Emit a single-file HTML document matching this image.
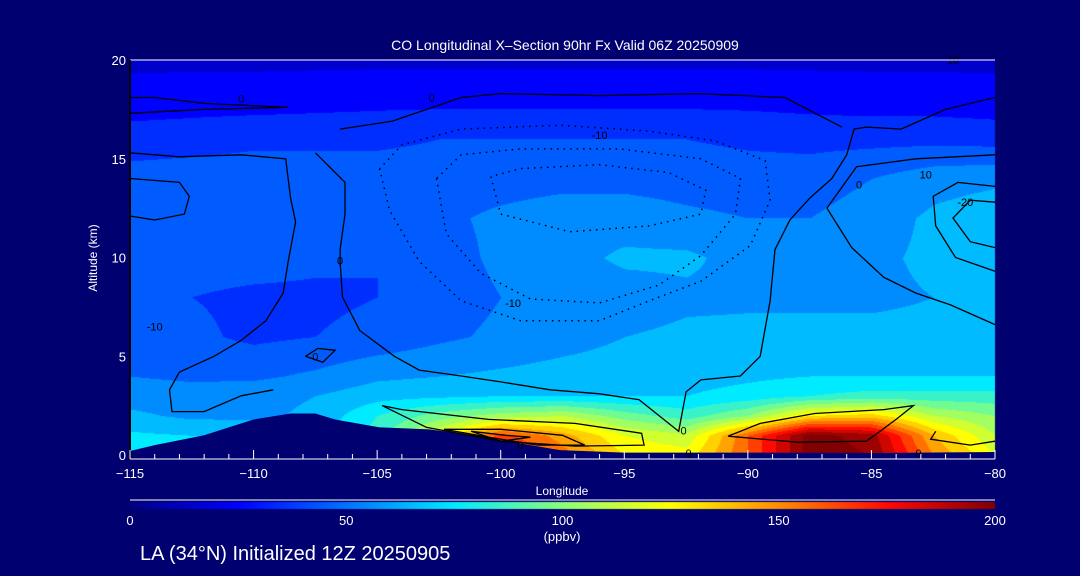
<!DOCTYPE html>
<html><head><meta charset="utf-8"><style>
html,body{margin:0;padding:0;background:#000070;}
#wrap{position:relative;width:1080px;height:576px;background:#000070;overflow:hidden;font-family:"Liberation Sans",sans-serif;color:#fff;}
canvas,svg{position:absolute;left:0;top:0;}
</style></head><body>
<div id="wrap">
<canvas id="cv" width="1080" height="576"></canvas>
<svg id="sv" width="1080" height="576"></svg>
</div>
<script>
// ---- data ----
const lons = [-115,-112.5,-110,-107.5,-105,-102.5,-100,-97.5,-95,-92.5,-90,-87.5,-85,-82.5,-80];
const alts = [0,1,2,3,4,6,8,10,12,14,16,18,20];
const co = [
 [78,78,78,78,95,130,175,155,130,125,160,205,200,150,120],
 [72,70,68,68,85,120,165,145,120,112,160,205,195,140,110],
 [62,58,58,62,80,95,105,110,95,85,100,130,135,110,100],
 [56,55,57,60,66,68,70,70,70,70,74,80,84,84,84],
 [50,48,48,52,58,60,62,64,65,66,68,70,70,70,70],
 [46,42,38,40,43,48,52,56,60,62,63,63,63,63,63],
 [43,40,38,38,40,45,50,54,55,58,58,58,58,60,60],
 [45,44,44,42,40,46,52,56,62,62,56,55,58,62,60],
 [45,45,45,45,45,48,52,55,55,52,50,50,55,62,66],
 [44,45,45,45,45,45,46,47,47,46,45,45,50,56,58],
 [35,36,38,38,38,40,40,40,40,40,38,37,37,37,36],
 [24,25,25,26,27,27,27,27,27,27,27,26,25,25,24],
 [18,18,18,18,18,18,18,18,18,18,18,18,18,18,18]
];
const terrainLon = [-115,-114,-112,-110,-108.5,-107.5,-106.7,-104.9,-102.9,-101,-100,-97.6,-95,-90,-85,-80];
const terrainAlt = [0.2,0.5,1.0,1.8,2.1,2.1,1.8,1.4,1.3,1.0,0.75,0.25,0.12,0.12,0.1,0.15];
const xTicks = [-115,-110,-105,-100,-95,-90,-85,-80];
const yTicks = [0,5,10,15,20];
const cbTicks = [0,50,100,150,200];
const solidContours = [
 [[-115,18.1],[-114,18.1],[-112,17.8],[-108.6,17.6],[-112,17.5],[-115,17.3]],
 [[-115,15.3],[-113,15.1],[-110.5,15.2],[-108.7,15.0],[-108.5,13],[-108.3,11.8],[-108.6,9.8],[-108.8,8.2],[-109.5,6.8],[-110.5,5.8],[-111.6,5],[-113,4.2],[-113.4,3.3],[-113.3,2.2],[-112,2.2],[-110.5,3],[-109.2,3.3]],
 [[-115,14],[-113,13.8],[-112.6,13.1],[-112.8,12.2],[-114,11.9],[-115,12.1]],
 [[-107.5,15.3],[-106.3,13.8],[-106.3,12.2],[-106.5,10.4],[-106.5,9.8],[-106.4,8],[-105.7,6.3],[-104.3,5],[-103.3,4.3],[-101.6,4],[-100,3.7],[-98,3.3],[-96,3.1],[-94.4,2.8],[-93.1,1.5],[-92.8,1.2],[-92.5,3.2],[-91.9,3.8],[-90.3,4],[-89.5,5],[-89.1,7.8],[-88.9,10.4],[-88.3,11.9],[-87.5,13],[-86.6,14],[-86,15.2],[-85.7,16.5],[-85.2,16.6],[-83.8,16.5],[-82,17.5],[-80,18.1]],
 [[-106.5,16.5],[-104.4,16.9],[-101.6,18.1],[-100,18.3],[-96,18.2],[-92,18.3],[-88.5,18.1],[-86.2,16.6]],
 [[-86.8,12.5],[-85.6,14.6],[-83.2,15],[-80,15.2]],
 [[-86.8,12.5],[-85.8,10.5],[-84.5,9],[-83.2,8.2],[-81.8,7.6],[-80,6.6]],
 [[-80,13.6],[-81.5,13.8],[-82.5,13.1],[-82.4,11.6],[-81.6,10],[-80,9.3]],
 [[-80,12.8],[-81,12.9],[-81.7,12],[-81,10.8],[-80,10.5]],
 [[-104.8,2.5],[-104,2.3],[-100.5,1.8],[-97,1.6],[-94.3,1.1],[-94.2,0.5],[-97,0.45],[-100,0.7],[-103,1.4],[-104.8,2.5]],
 [[-102.3,1.3],[-100,1.3],[-97.5,1.0],[-96.6,0.5],[-98.5,0.5],[-100.5,0.9],[-102.3,1.3]],
 [[-101.2,1.2],[-99.8,1.0],[-98.8,0.9],[-100,0.7],[-101.2,1.2]],
 [[-90.8,0.95],[-89.5,1.6],[-87.3,2.1],[-84.5,2.3],[-83.3,2.5],[-84,1.8],[-85.2,0.7],[-88,0.65],[-90.8,0.95]],
 [[-82.4,1.2],[-82.6,0.8],[-81,0.5],[-80,0.7]],
 [[-107.9,5],[-107.4,5.4],[-106.7,5.3],[-107.2,4.7],[-107.9,5]]
];
const dottedContours = [
 [[-104.9,14.5],[-104.5,12.4],[-103.3,9.8],[-101.6,7.8],[-99.2,6.8],[-96,6.8],[-94,7.8],[-91.9,8.8],[-89.9,10.6],[-89.1,12.9],[-89.3,14.9],[-91.3,15.9],[-94,16.4],[-97.6,16.7],[-101.6,16.5],[-104,15.7],[-104.9,14.5]],
 [[-102.6,14],[-102.2,11.2],[-100.8,9.2],[-98.8,7.9],[-96,7.7],[-93.6,8.6],[-91.9,10.1],[-90.5,12.2],[-90.3,14],[-91.9,15],[-95.2,15.5],[-99.2,15.5],[-101.6,15.2],[-102.6,14]],
 [[-100.4,14.1],[-100,12.2],[-97.2,11.3],[-94,11.6],[-91.9,12.2],[-91.7,13.4],[-93.2,14.3],[-96,14.7],[-99.2,14.5],[-100.4,14.1]]
];
const contourLabels = [["0",-110.5,18.05],["0",-102.8,18.1],["-10",-96,16.2],["-10",-99.5,7.7],["0",-106.5,9.85],["0",-85.5,13.7],["-10",-114,6.5],["10",-82.8,14.2],["-20",-81.2,12.8],["0",-107.5,5],["0",-92.6,1.25],["0",-92.4,0.1],["0",-99.2,0.5],["0",-83.1,0.1],["10",-81.7,20]];

// ---- axes ----
const X0=130,X1=995,Y0=455,Y1=60;
const xs=l=>X0+(l+115)/35*(X1-X0);
const ys=a=>Y0-a/20*(Y0-Y1);
const stops=[[0,[0,0,130]],[25,[0,0,255]],[50,[0,115,255]],[75,[0,235,255]],[100,[140,255,120]],[125,[255,255,0]],[150,[255,140,0]],[175,[255,10,0]],[200,[130,0,0]]];
function cmap(v){v=Math.max(0,Math.min(200,v));for(let i=0;i<stops.length-1;i++){const a=stops[i],b=stops[i+1];if(v<=b[0]){const t=(v-a[0])/(b[0]-a[0]);return a[1].map((c,k)=>Math.round(c+(b[1][k]-c)*t));}}return stops[stops.length-1][1];}
function interp(lon,alt){
 let i=0;while(i<lons.length-2&&lon>lons[i+1])i++;
 let j=0;while(j<alts.length-2&&alt>alts[j+1])j++;
 const tx=Math.max(0,Math.min(1,(lon-lons[i])/(lons[i+1]-lons[i])));
 const ty=Math.max(0,Math.min(1,(alt-alts[j])/(alts[j+1]-alts[j])));
 const a=co[j][i],b=co[j][i+1],c=co[j+1][i],d=co[j+1][i+1];
 return (a*(1-tx)+b*tx)*(1-ty)+(c*(1-tx)+d*tx)*ty;
}
const cv=document.getElementById('cv'),ctx=cv.getContext('2d');
const img=ctx.createImageData(X1-X0,Y0-Y1);
for(let py=0;py<Y0-Y1;py++){for(let px=0;px<X1-X0;px++){
 const lon=-115+px/(X1-X0)*35, alt=(Y0-Y1-py)/(Y0-Y1)*20;
 let v=interp(lon,alt); v=Math.floor(v/10)*10+5;
 const c=cmap(v); const k=(py*(X1-X0)+px)*4;
 img.data[k]=c[0];img.data[k+1]=c[1];img.data[k+2]=c[2];img.data[k+3]=255;}}
ctx.putImageData(img,X0,Y1);
// colorbar
const g=ctx.createLinearGradient(X0,0,X1,0);
stops.forEach(s=>{const c=s[1];g.addColorStop(s[0]/200,`rgb(${c[0]},${c[1]},${c[2]})`);});
ctx.fillStyle=g;ctx.fillRect(X0,502,X1-X0,7);

const NS='http://www.w3.org/2000/svg',sv=document.getElementById('sv');
function el(t,at,p){const e=document.createElementNS(NS,t);for(const k in at)e.setAttribute(k,at[k]);(p||sv).appendChild(e);return e;}
function txt(s,x,y,opt){const e=el('text',Object.assign({x:x,y:y,fill:'#fff','font-size':13,'font-family':'Liberation Sans, sans-serif'},opt||{}));e.textContent=s;return e;}
// terrain
let tp=`M${xs(-115)},${Y0+1} `+terrainLon.map((l,i)=>`L${xs(l)},${ys(terrainAlt[i])}`).join(' ')+` L${xs(-80)},${Y0+1} Z`;
const ter=el('path',{d:tp,fill:'#000070'});


// contours
const pl=pts=>pts.map(p=>xs(p[0]).toFixed(1)+','+ys(p[1]).toFixed(1)).join(' ');
solidContours.forEach(c=>{const e=el('polyline',{points:pl(c),fill:'none',stroke:'#000','stroke-width':1.3});
 
 });
dottedContours.forEach(c=>{const e=el('polyline',{points:pl(c),fill:'none',stroke:'#000','stroke-width':1.5,'stroke-dasharray':'1.5 5'});
 
 });
contourLabels.forEach(c=>{const e=txt(c[0],xs(c[1]),ys(c[2])+4,{fill:'#000','font-size':11,'text-anchor':'middle'});
 
 });
// axes
el('line',{x1:X0,y1:Y1,x2:X1,y2:Y1,stroke:'#fff','stroke-width':1});
el('line',{x1:X0,y1:Y1,x2:X0,y2:Y0+5,stroke:'#000','stroke-width':2});
el('line',{x1:X0,y1:Y0+4,x2:X1,y2:Y0+4,stroke:'#fff','stroke-width':1});
for(let l=-115;l<=-80;l++){const maj=l%5===0;el('line',{x1:xs(l),y1:Y0+4,x2:xs(l),y2:Y0+4-(maj?9:5),stroke:'#fff','stroke-width':1});}
xTicks.forEach(t=>{const e=txt(String(t).replace('-','\u2212'),xs(t),478,{'text-anchor':'middle'});
 
 });
yTicks.forEach(t=>{const e=txt(String(t),126,ys(t)+5,{'text-anchor':'end'});
 
 });
const tt=txt('CO Longitudinal X\u2013Section 90hr  Fx Valid 06Z 20250909',565,50,{'text-anchor':'middle','font-size':14,'xml:space':'preserve'});

const xt=txt('Longitude',562,495,{'text-anchor':'middle','font-size':12});

const yt=txt('Altitude (km)',0,0,{'text-anchor':'middle','font-size':12,transform:'translate(97,258) rotate(-90)'});

el('line',{x1:X0,y1:500,x2:X1,y2:500,stroke:'#fff','stroke-width':1});
cbTicks.forEach(t=>{const e=txt(String(t),X0+t/200*(X1-X0),525,{'text-anchor':'middle'});
 
 });
const un=txt('(ppbv)',562,541,{'text-anchor':'middle','font-size':13});

const ft=txt('LA (34°N) Initialized 12Z 20250905',140,560,{'font-size':20});

</script>
</body></html>
